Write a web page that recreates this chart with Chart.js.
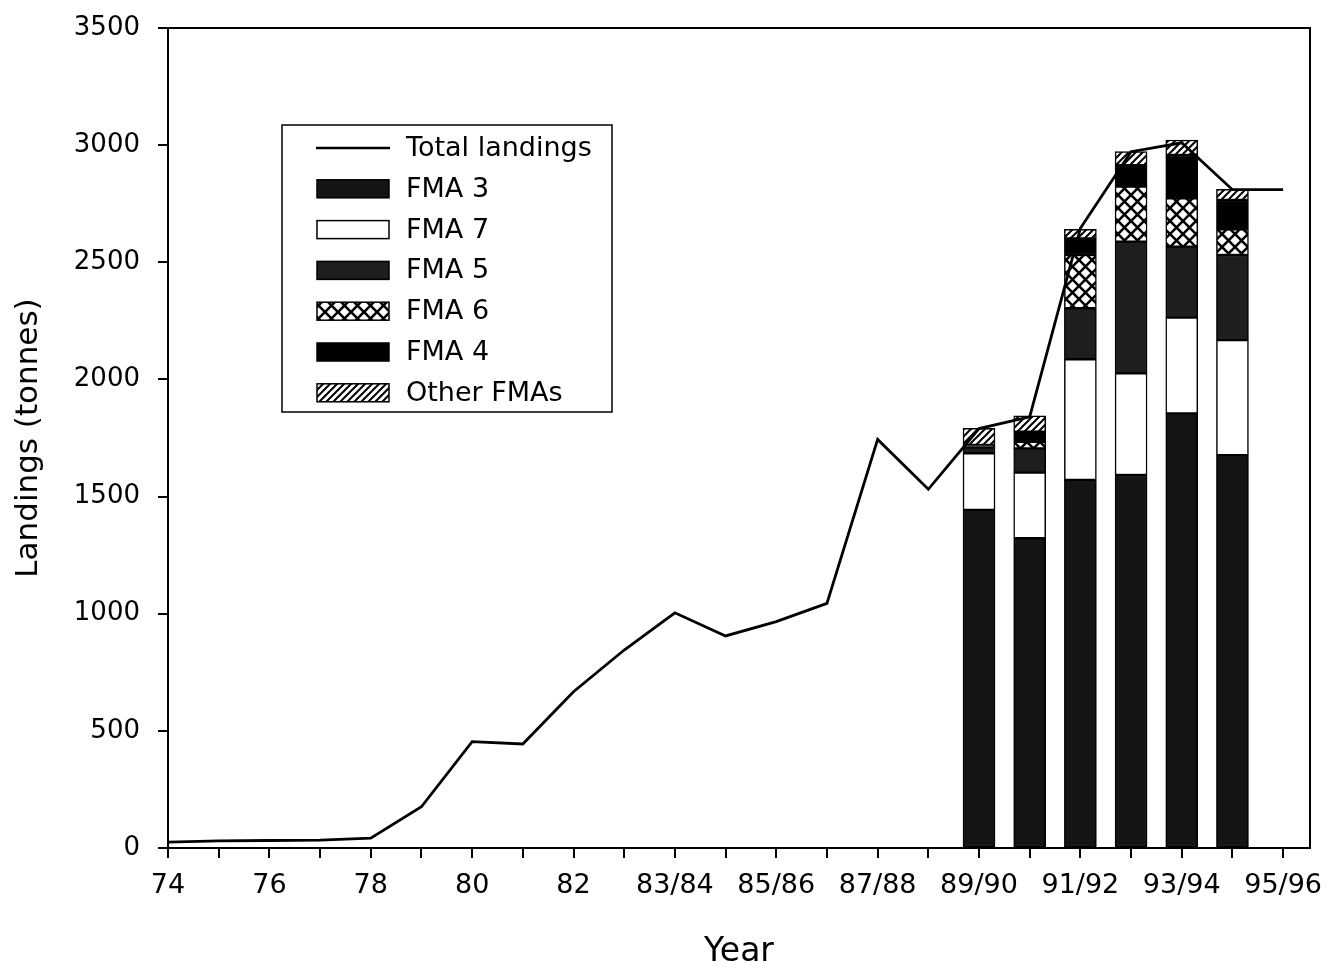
<!DOCTYPE html>
<html>
<head>
<meta charset="utf-8">
<title>Landings</title>
<script src="https://cdn.jsdelivr.net/npm/chart.js@4.4.1/dist/chart.umd.min.js"></script>
<style>
  html, body { margin: 0; padding: 0; background: #fff; }
  #wrap { width: 1328px; height: 967px; }
</style>
</head>
<body>
<div id="wrap"><canvas id="chartjs-0" width="1328" height="967"></canvas></div>
<script>
// fishing years along the x axis
var years = ["74", "75", "76", "77", "78", "79", "80", "81", "82", "82/83", "83/84", "84/85",
             "85/86", "86/87", "87/88", "88/89", "89/90", "90/91", "91/92", "92/93", "93/94", "94/95", "95/96"];

// total landings line (tonnes)
var total = [25, 30, 32, 34, 42, 176, 454, 444, 667, 845, 1004, 905,
             966, 1044, 1744, 1531, 1790, 1840, 2645, 2972, 3010, 2810, 2810];

// years that have the FMA breakdown
var barYears = ["89/90", "90/91", "91/92", "92/93", "93/94", "94/95"];
var fma3  = [1443, 1322, 1571, 1592, 1855, 1677];
var fma7  = [242, 280, 515, 434, 409, 491];
var fma5  = [25, 104, 218, 562, 303, 363];
var fma6  = [0, 28, 227, 235, 206, 110];
var fma4  = [10, 43, 71, 92, 185, 125];
var other = [71, 68, 39, 57, 64, 45];

var yTicks = [0, 500, 1000, 1500, 2000, 2500, 3000, 3500];

var FONT = "'DejaVu Sans', Verdana, sans-serif";

/* hatch patterns */
function crossPattern() {
    var c = document.createElement("canvas");
    c.width = 13; c.height = 13;
    var g = c.getContext("2d");
    g.fillStyle = "#fff";
    g.fillRect(0, 0, 13, 13);
    g.strokeStyle = "#000";
    g.lineWidth = 2.6;
    g.beginPath();
    g.moveTo(-2, -2); g.lineTo(15, 15);
    g.moveTo(15, -2); g.lineTo(-2, 15);
    g.stroke();
    return g.createPattern(c, "repeat");
}
function diagPattern() {
    var c = document.createElement("canvas");
    c.width = 7; c.height = 7;
    var g = c.getContext("2d");
    g.fillStyle = "#fff";
    g.fillRect(0, 0, 7, 7);
    g.strokeStyle = "#000";
    g.lineWidth = 2;
    g.beginPath();
    g.moveTo(-1, 8); g.lineTo(8, -1);
    g.moveTo(-1, 1); g.lineTo(1, -1);
    g.moveTo(6, 8); g.lineTo(8, 6);
    g.stroke();
    return g.createPattern(c, "repeat");
}

// turn arrays into {x, y} points on the year index
function linePoints(vals) {
    var pts = [];
    for (var i = 0; i < vals.length; i++) {
        pts.push({ x: i, y: vals[i] });
    }
    return pts;
}
function barPoints(vals) {
    var pts = [];
    for (var i = 0; i < barYears.length; i++) {
        pts.push({ x: years.indexOf(barYears[i]), y: vals[i] });
    }
    return pts;
}

function barSet(label, vals, fill) {
    return {
        type: "bar",
        label: label,
        data: barPoints(vals),
        backgroundColor: fill,
        borderColor: "#000",
        borderWidth: 1.5,
        borderSkipped: false,
        barThickness: 32,
        stack: "fma"
    };
}

/* frame round the plot */
var framePlugin = {
    id: "frame",
    afterDraw: function (chart) {
        var a = chart.chartArea;
        var ctx = chart.ctx;
        ctx.save();
        ctx.strokeStyle = "#000";
        ctx.lineWidth = 2;
        ctx.strokeRect(a.left, a.top, a.right - a.left, a.bottom - a.top);
        ctx.restore();
    }
};

/* legend box inside the plot */
var legendPlugin = {
    id: "boxLegend",
    afterDraw: function (chart) {
        var ctx = chart.ctx;
        var sets = chart.data.datasets;
        var bx = 282, by = 125, bw = 330, bh = 287;
        ctx.save();
        ctx.fillStyle = "#fff";
        ctx.fillRect(bx, by, bw, bh);
        ctx.strokeStyle = "#000";
        ctx.lineWidth = 1.5;
        ctx.strokeRect(bx, by, bw, bh);
        ctx.font = "27px " + FONT;
        ctx.textBaseline = "middle";
        ctx.textAlign = "left";
        for (var i = 0; i < sets.length; i++) {
            var cy = 148 + i * 40.8;
            if (sets[i].type === "line") {
                ctx.strokeStyle = "#000";
                ctx.lineWidth = 2.5;
                ctx.beginPath();
                ctx.moveTo(316, cy);
                ctx.lineTo(390, cy);
                ctx.stroke();
            } else {
                ctx.fillStyle = sets[i].backgroundColor;
                ctx.fillRect(317, cy - 9, 72, 18);
                ctx.strokeStyle = "#000";
                ctx.lineWidth = 1.5;
                ctx.strokeRect(317, cy - 9, 72, 18);
            }
            ctx.fillStyle = "#000";
            ctx.fillText(sets[i].label, 406, cy + 1);
        }
        ctx.restore();
    }
};

var ctx0 = document.getElementById("chartjs-0");
var myChart = new Chart(ctx0, {
    data: {
        datasets: [
            {
                type: "line",
                label: "Total landings",
                data: linePoints(total),
                borderColor: "#000",
                borderWidth: 2.8,
                pointRadius: 0,
                fill: false,
                tension: 0,
                stack: "total"
            },
            barSet("FMA 3", fma3, "#141414"),
            barSet("FMA 7", fma7, "#ffffff"),
            barSet("FMA 5", fma5, "#1e1e1e"),
            barSet("FMA 6", fma6, crossPattern()),
            barSet("FMA 4", fma4, "#000000"),
            barSet("Other FMAs", other, diagPattern())
        ]
    },
    options: {
        responsive: false,
        animation: false,
        layout: { padding: { top: 28, right: 18, left: 0, bottom: 0 } },
        plugins: {
            legend: { display: false },
            tooltip: { enabled: false }
        },
        scales: {
            x: {
                type: "linear",
                stacked: true,
                offset: false,
                min: 0,
                max: 22.53,
                afterFit: function (s) {
                    s.height = 119;
                    s.paddingLeft = 0;
                    s.paddingRight = 0;
                },
                grid: { offset: false, drawOnChartArea: false, drawTicks: true, tickLength: 10, color: "#000", lineWidth: 2 },
                border: { display: true, color: "#000", width: 2 },
                ticks: {
                    stepSize: 1,
                    includeBounds: false,
                    autoSkip: false,
                    maxRotation: 0,
                    padding: 12,
                    color: "#000",
                    font: { family: FONT, size: 27 },
                    callback: function (v) {
                        if (Number.isInteger(v) && v % 2 === 0 && years[v]) return years[v];
                        return "";
                    }
                },
                title: {
                    display: true,
                    text: "Year",
                    color: "#000",
                    font: { family: FONT, size: 33 },
                    padding: { top: 0, bottom: -5 }
                }
            },
            y: {
                stacked: true,
                min: yTicks[0],
                max: yTicks[yTicks.length - 1],
                afterFit: function (s) {
                    s.width = 168;
                    s.paddingTop = 0;
                    s.paddingBottom = 0;
                },
                grid: { drawOnChartArea: false, drawTicks: true, tickLength: 10, color: "#000", lineWidth: 2 },
                border: { display: true, color: "#000", width: 2 },
                ticks: {
                    stepSize: 500,
                    padding: 18,
                    color: "#000",
                    font: { family: FONT, size: 26 },
                    callback: function (v) { return String(v); }
                },
                title: {
                    display: true,
                    text: "Landings (tonnes)",
                    color: "#000",
                    font: { family: FONT, size: 31 },
                    padding: { top: 10, bottom: 0 }
                }
            }
        }
    },
    plugins: [framePlugin, legendPlugin]
});
</script>
</body>
</html>
